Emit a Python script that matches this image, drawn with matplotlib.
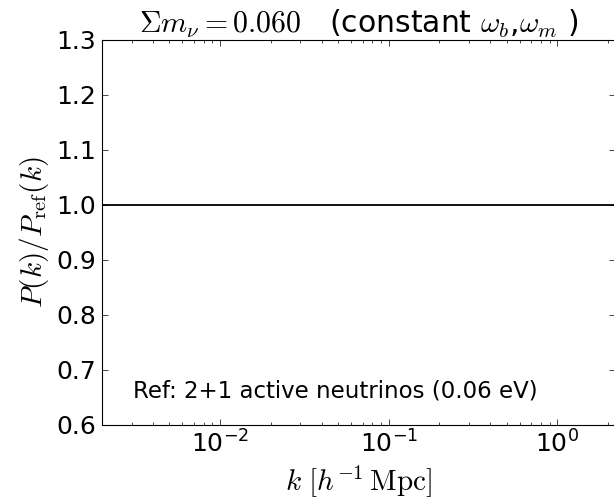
import numpy as np
import matplotlib
matplotlib.use('Agg')
import matplotlib.pyplot as plt

plt.rcParams['mathtext.fontset'] = 'cm'
plt.rcParams['font.family'] = 'DejaVu Sans'

# k values and ratio P(k)/P_ref(k) (reference case => exactly 1)
k = [0.002, 0.01, 0.1, 1.0, 2.2]
ratio = [1.0, 1.0, 1.0, 1.0, 1.0]
yticks = [0.6, 0.7, 0.8, 0.9, 1.0, 1.1, 1.2, 1.3]

fig = plt.figure(figsize=(6.14, 5.04), dpi=100)
ax = fig.add_axes([0.166, 0.157, 0.836, 0.764])

ax.plot(k, ratio, color='k', linewidth=1.3)
ax.set_xscale('log')
ax.set_xlim(0.002, 2.2)
ax.set_ylim(0.6, 1.3)
ax.set_yticks(yticks)
ax.set_yticklabels(['%.1f' % v for v in yticks])

ax.tick_params(which='both', direction='in', top=True, right=True, labelsize=18)
ax.tick_params(which='major', length=4, width=0.5, pad=4)
ax.tick_params(which='minor', length=2, width=0.5)
ax.minorticks_on()
ax.yaxis.set_minor_locator(matplotlib.ticker.NullLocator())

ax.set_xlabel(r'$k\ [h^{-1}\,\mathrm{Mpc}]$', fontsize=21, labelpad=4)
ax.set_ylabel(r'$P(k)/P_{\rm ref}(k)$', fontsize=21, labelpad=4)
ax.set_title(r'$\Sigma m_\nu =0.060$   (constant $\omega_b$,$\omega_m$ )', fontsize=21.5, pad=-3)

ax.text(0.06, 0.07, 'Ref: 2+1 active neutrinos (0.06 eV)', transform=ax.transAxes, fontsize=16.5)

fig.savefig('out.png', dpi=100)
